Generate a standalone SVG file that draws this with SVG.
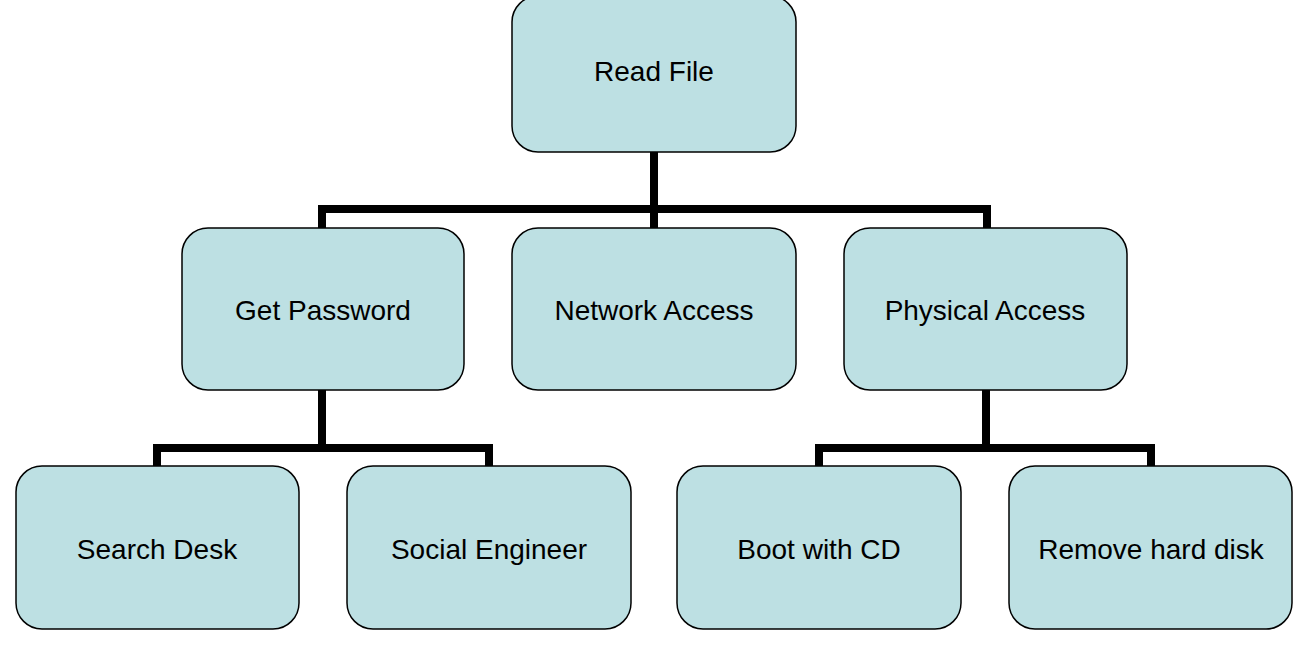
<svg xmlns="http://www.w3.org/2000/svg" width="1308" height="645" viewBox="0 0 1308 645">
<style>
.n rect{fill:#bde0e3;stroke:#000;stroke-width:1.5}
.n text{font-family:"Liberation Sans",Arial,sans-serif;font-size:28px;text-anchor:middle;fill:#000}
.c path{fill:none;stroke:#000;stroke-width:8}
</style>
<rect width="1308" height="645" fill="#fff"/>
<g class="c">
<path d="M654,152V209M322,228V209H987V228M654,209V228"/>
<path d="M322,390V448M157,466V448H489V466"/>
<path d="M986,390V448M819,466V448H1151V466"/>
</g>
<g class="n" id="readfile"><rect x="512" y="-4" width="284" height="156" rx="26"/><text x="654" y="81">Read File</text></g>
<g class="n" id="getpassword"><rect x="182" y="228" width="282" height="162" rx="26"/><text x="323" y="320">Get Password</text></g>
<g class="n" id="networkaccess"><rect x="512" y="228" width="284" height="162" rx="26"/><text x="654" y="320">Network Access</text></g>
<g class="n" id="physicalaccess"><rect x="844" y="228" width="283" height="162" rx="26"/><text x="985" y="320">Physical Access</text></g>
<g class="n" id="searchdesk"><rect x="16" y="466" width="283" height="163" rx="26"/><text x="157" y="559">Search Desk</text></g>
<g class="n" id="socialengineer"><rect x="347" y="466" width="284" height="163" rx="26"/><text x="489" y="559">Social Engineer</text></g>
<g class="n" id="bootwithcd"><rect x="677" y="466" width="284" height="163" rx="26"/><text x="819" y="559">Boot with CD</text></g>
<g class="n" id="removeharddisk"><rect x="1009" y="466" width="283" height="163" rx="26"/><text x="1151" y="559">Remove hard disk</text></g>
</svg>
